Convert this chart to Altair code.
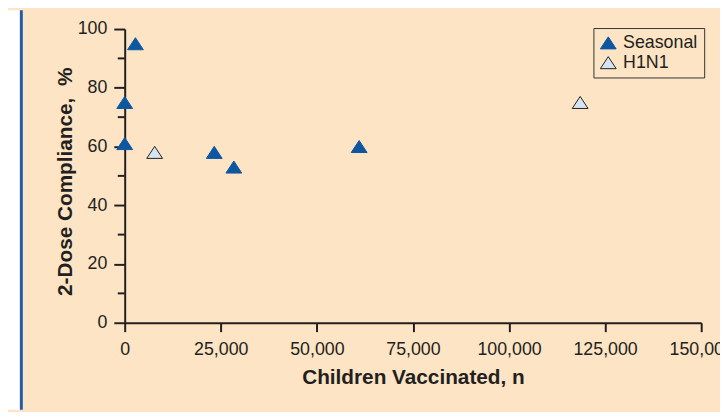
import altair as alt
import pandas as pd

# ---- data ----
series = ["Seasonal", "Seasonal", "Seasonal", "Seasonal", "Seasonal", "Seasonal", "H1N1", "H1N1"]
children = [0, 0, 2800, 23300, 28400, 61000, 7800, 118500]
compliance = [61, 75, 95, 58, 53, 60, 58, 75]

series_order = ["Seasonal", "H1N1"]
x_ticks = [0, 25000, 50000, 75000, 100000, 125000, 150000]
y_ticks = [0, 20, 40, 60, 80, 100]
y_minor_ticks = [10, 30, 50, 70, 90]

df = pd.DataFrame({"series": series, "children": children, "compliance": compliance})
minor_df = pd.DataFrame({"compliance": y_minor_ticks})

# ---- layout ----
W, H = 583, 297
L, T, R, B = 118, 19, 19, 88
INK = "#231F20"
BEIGE = "#FCE4C4"
BLUE = "#0D57A1"
LIGHT = "#D5E4F2"
FONT = "Liberation Sans"
TRI = "M-1,0.76L1,0.76L0,-0.76Z"
Y_TITLE = "2-Dose Compliance,\u00a0 %"
LEG_LABEL = "datum.label + '\u00a0\u00a0'"

x_scale = alt.Scale(domain=[0, 150000], nice=False)
y_scale = alt.Scale(domain=[0, 100], nice=False)

y_axis = alt.Axis(
    values=y_ticks,
    tickSize=11,
    labelPadding=7,
    labelBaseline="middle",
    titleAngle=270,
    titleAlign="center",
    titleBaseline="alphabetic",
    titleX=-54,
    titleY=154,
)

white_strip = alt.Chart().mark_rect(color="white").encode(
    x=alt.value(-L), x2=alt.value(-106), y=alt.value(-T), y2=alt.value(H + B)
)
blue_line = alt.Chart().mark_rect(color="#1F5FA8").encode(
    x=alt.value(-106), x2=alt.value(-103), y=alt.value(-T), y2=alt.value(H + B)
)

minor = alt.Chart(minor_df).mark_rule(color=INK, strokeWidth=2).encode(
    y=alt.Y("compliance:Q", scale=y_scale, axis=y_axis, title=Y_TITLE),
    x=alt.value(-7),
    x2=alt.value(0),
)

points = alt.Chart(df).mark_point(filled=True, opacity=1, size=256, strokeWidth=1).encode(
    x=alt.X(
        "children:Q",
        scale=x_scale,
        title="Children Vaccinated, n",
        axis=alt.Axis(
            values=x_ticks,
            labelExpr="datum.value == 0 ? '0' : (datum.value >= 100000 ? floor(datum.value / 100000) + '' + floor((datum.value % 100000) / 10000) + '' + floor((datum.value % 10000) / 1000) : floor(datum.value / 1000) + '') + ',000'",
            tickSize=9,
            labelPadding=23.5,
            labelBaseline="alphabetic",
            labelFlush=False,
            labelOverlap=False,
            titleY=61.5,
            titleBaseline="alphabetic",
        ),
    ),
    y=alt.Y("compliance:Q", scale=y_scale, axis=y_axis, title=Y_TITLE),
    fill=alt.Fill(
        "series:N",
        scale=alt.Scale(domain=series_order, range=[BLUE, LIGHT]),
        legend=alt.Legend(title=None, labelExpr=LEG_LABEL),
    ),
    stroke=alt.Stroke(
        "series:N",
        scale=alt.Scale(domain=series_order, range=[BLUE, INK]),
        legend=alt.Legend(title=None, labelExpr=LEG_LABEL),
    ),
    shape=alt.Shape(
        "series:N",
        scale=alt.Scale(domain=series_order, range=[TRI, TRI]),
        legend=alt.Legend(title=None, labelExpr=LEG_LABEL),
    ),
)

chart = (
    alt.layer(white_strip, blue_line, minor, points)
    .properties(
        width=W,
        height=H,
        padding={"left": L, "top": T, "right": R, "bottom": B},
        autosize=alt.AutoSizeParams(type="none"),
    )
    .configure(background=BEIGE)
    .configure_view(stroke="transparent")
    .configure_axis(
        grid=False,
        domainColor=INK,
        domainWidth=2,
        tickColor=INK,
        tickWidth=2,
        labelFont=FONT,
        labelFontSize=18,
        labelColor=INK,
        titleFont=FONT,
        titleFontSize=21,
        titleFontWeight="bold",
        titleColor=INK,
    )
    .configure_legend(
        orient="none",
        legendX=474,
        legendY=-1,
        strokeColor="#333333",
        strokeWidth=1,
        padding=6,
        labelFont=FONT,
        labelFontSize=18,
        labelColor=INK,
        symbolSize=256,
        symbolStrokeWidth=1,
        rowPadding=2,
        labelOffset=6,
    )
)

chart.save("out.html", embed_options={"renderer": "svg", "actions": False})
